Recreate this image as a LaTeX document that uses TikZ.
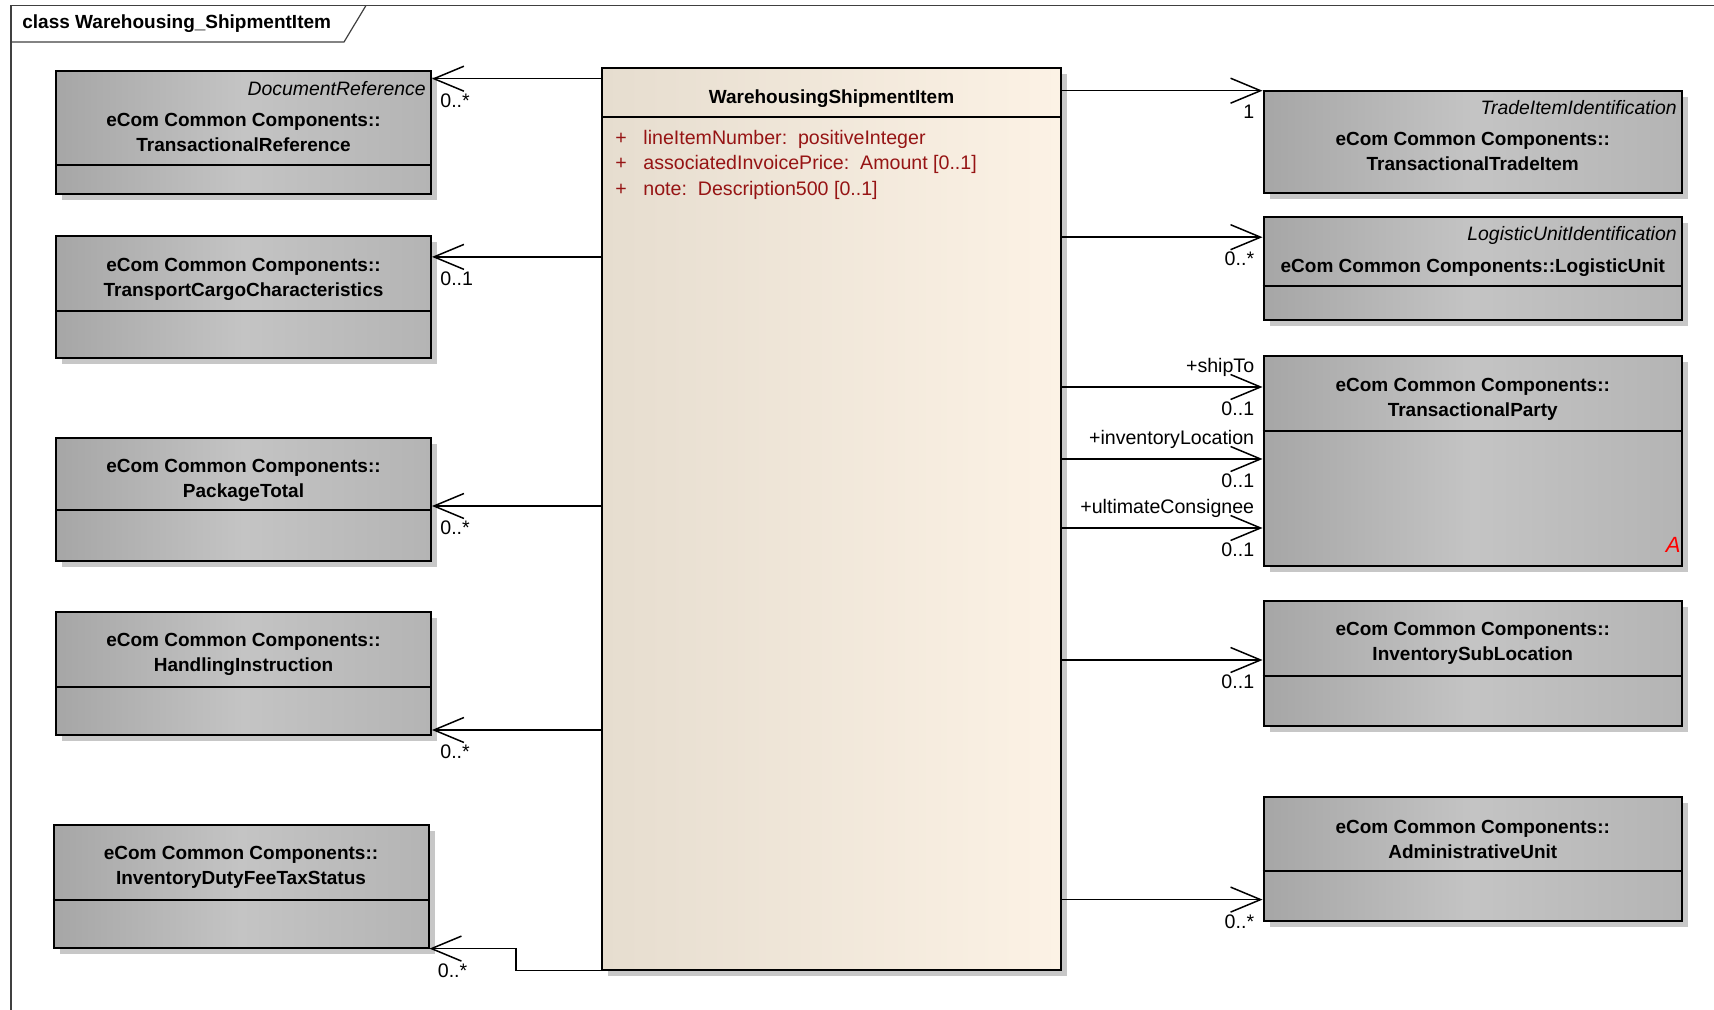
\documentclass[tikz,border=0pt]{standalone}
\usepackage{fontspec}
\setmainfont{Liberation Sans}
\usetikzlibrary{arrows.meta,positioning,shadows}

\definecolor{clsdark}{HTML}{A6A6A6}
\definecolor{clslight}{HTML}{C4C4C4}
\definecolor{clsright}{HTML}{B4B4B4}
\definecolor{itemleft}{HTML}{E6DDCF}
\definecolor{itemright}{HTML}{FCF2E5}
\definecolor{attrred}{HTML}{961414}

\begin{document}
\begin{tikzpicture}[x=0.5pt,y=-0.5pt,>={Straight Barb[length=15pt,width=12.5pt]},
    cls/.style={draw,line width=1pt,anchor=north west,inner sep=0pt,
      left color=clsdark,right color=clsright,middle color=clslight,
      drop shadow={shadow xshift=3pt,shadow yshift=-3pt,fill=black!22,opacity=1}},
    item/.style={cls,left color=itemleft,right color=itemright},
    cname/.style={font=\bfseries\fontsize{9.5}{12.5}\selectfont,align=center,inner sep=0pt},
    stereo/.style={font=\itshape\fontsize{9.7}{12}\selectfont,anchor=east,inner sep=0pt},
    attr/.style={font=\fontsize{9.8}{12}\selectfont,text=attrred,anchor=west,inner sep=0pt},
    divider/.style={line width=1pt},
    assoc/.style={->,line width=0.75pt},
    mult/.style={font=\fontsize{9.8}{12}\selectfont,inner sep=0pt},
    multl/.style={mult,anchor=north west,xshift=3.8pt,yshift=-7pt},
    multr/.style={mult,anchor=north east,xshift=-3.8pt,yshift=-7pt},
    role/.style={mult,anchor=south east,xshift=-3.8pt,yshift=5pt}]

  \useasboundingbox (0,0) rectangle (1714,1010);

  % frame
  \draw[line width=0.6pt,black!75] (11,1010) -- (11,5.5) -- (1714,5.5);
  \draw[line width=0.6pt,black!75] (11,42) -- (344,42) -- (366,5.5);
  \node[font=\bfseries\fontsize{9.5}{12}\selectfont,anchor=west,inner sep=0pt] (title) at (22,24)
    {class Warehousing\_ShipmentItem};

  % central class
  \node[item,minimum width=229.5pt,minimum height=450.9pt] (wsi) at (601,66.7) {};
  \node[cname] (wsiname) at ([yshift=-16.1pt]wsi.north) {WarehousingShipmentItem};
  \draw[divider] ([yshift=-25.2pt]wsi.north west) -- ([yshift=-25.2pt]wsi.north east);
  \node[attr] (att1) at ([xshift=7pt,yshift=-36.5pt]wsi.north west)
    {+\hspace{8.3pt}lineItemNumber:\ \ positiveInteger};
  \node[attr] (att2) at ([xshift=7pt,yshift=-49.1pt]wsi.north west)
    {+\hspace{8.3pt}associatedInvoicePrice:\ \ Amount [0..1]};
  \node[attr] (att3) at ([xshift=7pt,yshift=-61.65pt]wsi.north west)
    {+\hspace{8.3pt}note:\ \ Description500 [0..1]};

  % left column
  \node[cls,minimum width=187.5pt,minimum height=61.75pt] (tref) at (55,70) {};
  \node[stereo] (trefst) at ([xshift=-3pt,yshift=-9.25pt]tref.north east) {DocumentReference};
  \node[cname] (trefname) at ([yshift=-31pt]tref.north) {eCom Common Components::\\TransactionalReference};
  \draw[divider] ([yshift=-47.5pt]tref.north west) -- ([yshift=-47.5pt]tref.north east);

  \node[cls,minimum width=187.5pt,minimum height=61.25pt] (cargo) at (55,235) {};
  \node[cname] (cargoname) at ([yshift=-22pt]cargo.north) {eCom Common Components::\\TransportCargoCharacteristics};
  \draw[divider] ([yshift=-38.25pt]cargo.north west) -- ([yshift=-38.25pt]cargo.north east);

  \node[cls,minimum width=187.5pt,minimum height=61.35pt] (pkg) at (55,437) {};
  \node[cname] (pkgname) at ([yshift=-21.5pt]pkg.north) {eCom Common Components::\\PackageTotal};
  \draw[divider] ([yshift=-36.75pt]pkg.north west) -- ([yshift=-36.75pt]pkg.north east);

  \node[cls,minimum width=187.5pt,minimum height=61.25pt] (handling) at (55,611) {};
  \node[cname] (handlingname) at ([yshift=-21.8pt]handling.north) {eCom Common Components::\\HandlingInstruction};
  \draw[divider] ([yshift=-37.75pt]handling.north west) -- ([yshift=-37.75pt]handling.north east);

  \node[cls,minimum width=187.5pt,minimum height=61.3pt] (duty) at (52.5,824) {};
  \node[cname] (dutyname) at ([yshift=-21.6pt]duty.north) {eCom Common Components::\\InventoryDutyFeeTaxStatus};
  \draw[divider] ([yshift=-37.8pt]duty.north west) -- ([yshift=-37.8pt]duty.north east);

  % right column
  \node[cls,minimum width=209.25pt,minimum height=51.4pt] (tradeitem) at (1262.5,89.6) {};
  \node[stereo] (tradeitemst) at ([xshift=-3pt,yshift=-9.2pt]tradeitem.north east) {TradeItemIdentification};
  \node[cname] (tradeitemname) at ([yshift=-31pt]tradeitem.north) {eCom Common Components::\\TransactionalTradeItem};

  \node[cls,minimum width=209.25pt,minimum height=51.4pt] (logunit) at (1262.5,216.4) {};
  \node[stereo] (logunitst) at ([xshift=-3pt,yshift=-9.3pt]logunit.north east) {LogisticUnitIdentification};
  \node[cname] (logunitname) at ([yshift=-25.6pt]logunit.north) {eCom Common Components::LogisticUnit};
  \draw[divider] ([yshift=-35pt]logunit.north west) -- ([yshift=-35pt]logunit.north east);

  \node[cls,minimum width=209.25pt,minimum height=105pt] (party) at (1262.5,355) {};
  \node[cname] (partyname) at ([yshift=-22.1pt]party.north) {eCom Common Components::\\TransactionalParty};
  \draw[divider] ([yshift=-37.85pt]party.north west) -- ([yshift=-37.85pt]party.north east);
  \node[font=\itshape\fontsize{11}{12}\selectfont,text=red,anchor=south east,inner sep=0pt] (partyA)
    at ([xshift=-1pt,yshift=7pt]party.south east) {A};

  \node[cls,minimum width=209.25pt,minimum height=62.35pt] (subloc) at (1262.5,600) {};
  \node[cname] (sublocname) at ([yshift=-21.85pt]subloc.north) {eCom Common Components::\\InventorySubLocation};
  \draw[divider] ([yshift=-37.75pt]subloc.north west) -- ([yshift=-37.75pt]subloc.north east);

  \node[cls,minimum width=209.25pt,minimum height=62.3pt] (adminunit) at (1262.5,795.8) {};
  \node[cname] (adminunitname) at ([yshift=-21.6pt]adminunit.north) {eCom Common Components::\\AdministrativeUnit};
  \draw[divider] ([yshift=-37.7pt]adminunit.north west) -- ([yshift=-37.7pt]adminunit.north east);

  % associations to the left
  \coordinate (w1) at ([yshift=-6pt]wsi.north west);
  \coordinate (w2) at ([yshift=-95.1pt]wsi.north west);
  \coordinate (w3) at ([yshift=-219.65pt]wsi.north west);
  \coordinate (w4) at ([yshift=-331.65pt]wsi.north west);
  \draw[assoc] (w1) -- (w1 -| tref.east) node[multl] (m1) {0..*};
  \draw[assoc] (w2) -- (w2 -| cargo.east) node[multl] (m2) {0..1};
  \draw[assoc] (w3) -- (w3 -| pkg.east) node[multl] (m3) {0..*};
  \draw[assoc] (w4) -- (w4 -| handling.east) node[multl] (m4) {0..*};
  \draw[assoc] (wsi.south west) -- ++(-85,0) |- (duty.south east) node[multl] (m5) {0..*};

  % associations to the right
  \coordinate (e1) at ([yshift=-12pt]wsi.north east);
  \coordinate (e2) at ([yshift=-85.25pt]wsi.north east);
  \coordinate (e3) at ([yshift=-160.15pt]wsi.north east);
  \coordinate (e4) at ([yshift=-196.15pt]wsi.north east);
  \coordinate (e5) at ([yshift=-230.65pt]wsi.north east);
  \coordinate (e6) at ([yshift=-296.65pt]wsi.north east);
  \coordinate (e7) at ([yshift=-416.45pt]wsi.north east);
  \draw[assoc] (e1) -- (e1 -| tradeitem.west) node[multr] (m6) {1};
  \draw[assoc] (e2) -- (e2 -| logunit.west) node[multr] (m7) {0..*};
  \draw[assoc] (e3) -- (e3 -| party.west) node[role] (r1) {+shipTo} node[multr] (m8) {0..1};
  \draw[assoc] (e4) -- (e4 -| party.west) node[role] (r2) {+inventoryLocation} node[multr] (m9) {0..1};
  \draw[assoc] (e5) -- (e5 -| party.west) node[role] (r3) {+ultimateConsignee} node[multr] (m10) {0..1};
  \draw[assoc] (e6) -- (e6 -| subloc.west) node[multr] (m11) {0..1};
  \draw[assoc] (e7) -- (e7 -| adminunit.west) node[multr] (m12) {0..*};
\end{tikzpicture}
\end{document}
